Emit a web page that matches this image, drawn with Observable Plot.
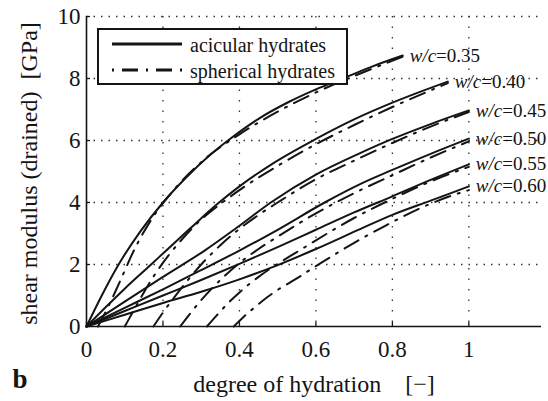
<!DOCTYPE html>
<html>
<head>
<meta charset="utf-8">
<script src="https://cdn.jsdelivr.net/npm/d3@7"></script>
<script src="https://cdn.jsdelivr.net/npm/@observablehq/plot@0.6"></script>
<style>
  html, body { margin: 0; padding: 0; background: #fff; }
  #wrap { position: relative; width: 548px; height: 401px; }
  #legend { position: absolute; left: 97px; top: 28px; }
  text { font-family: "Liberation Serif", "DejaVu Serif", serif; }
</style>
</head>
<body>
<div id="wrap"></div>
<script>
// ---- tick labels ----
const xTicks = [0, 0.2, 0.4, 0.6, 0.8, 1];
const xTickLabels = ["0", "0.2", "0.4", "0.6", "0.8", "1"];
const yTicks = [0, 2, 4, 6, 8, 10];
const yTickLabels = ["0", "2", "4", "6", "8", "10"];

// ---- series: water/cement ratios ----
const wcRatios = ["0.35", "0.40", "0.45", "0.50", "0.55", "0.60"];

// acicular hydrates (solid) : degree of hydration / shear modulus [GPa]
const acicularX035 = [0, 0.04, 0.084, 0.14, 0.2, 0.26, 0.32, 0.37, 0.45, 0.53, 0.6, 0.67, 0.75, 0.827];
const acicularY035 = [0, 1.0, 2.0, 3.05, 4.0, 4.8, 5.5, 6.0, 6.7, 7.25, 7.65, 8.0, 8.4, 8.74];
const acicularX040 = [0, 0.05, 0.1, 0.169, 0.21, 0.27, 0.342, 0.4, 0.49, 0.6, 0.7, 0.8, 0.945];
const acicularY040 = [0, 0.62, 1.22, 2.0, 2.47, 3.15, 3.95, 4.52, 5.28, 6.05, 6.68, 7.22, 7.9];
const acicularX045 = [0, 0.1, 0.2, 0.309, 0.4, 0.482, 0.6, 0.717, 0.8, 0.9, 1.0];
const acicularY045 = [0, 0.8, 1.6, 2.45, 3.25, 4.0, 4.9, 5.6, 6.05, 6.53, 6.97];
const acicularX050 = [0, 0.1, 0.2, 0.3, 0.4, 0.5, 0.623, 0.717, 0.8, 0.9, 1.0];
const acicularY050 = [0, 0.6, 1.2, 1.82, 2.45, 3.12, 4.0, 4.6, 5.05, 5.57, 6.06];
const acicularX055 = [0, 0.1, 0.2, 0.3, 0.4, 0.5, 0.6, 0.7, 0.8, 0.9, 1.0];
const acicularY055 = [0, 0.5, 1.0, 1.5, 2.02, 2.56, 3.12, 3.68, 4.2, 4.73, 5.23];
const acicularX060 = [0, 0.1, 0.2, 0.3, 0.4, 0.5, 0.6, 0.717, 0.8, 0.9, 1.0];
const acicularY060 = [0, 0.38, 0.76, 1.12, 1.52, 1.98, 2.5, 3.15, 3.6, 4.06, 4.52];

// spherical hydrates (dash-dot)
const sphericalX035 = [0.03, 0.06, 0.08, 0.1, 0.12, 0.167, 0.228, 0.3, 0.4, 0.5, 0.6, 0.7, 0.827];
const sphericalY035 = [0, 0.72, 1.25, 1.8, 2.35, 3.4, 4.4, 5.3, 6.2, 6.93, 7.55, 8.08, 8.7];
const sphericalX040 = [0.1, 0.125, 0.15, 0.18, 0.215, 0.26, 0.3, 0.35, 0.4, 0.5, 0.6, 0.7, 0.8, 0.945];
const sphericalY040 = [0, 0.55, 1.1, 1.7, 2.3, 2.95, 3.45, 3.95, 4.4, 5.18, 5.88, 6.5, 7.08, 7.85];
const sphericalX045 = [0.175, 0.2, 0.23, 0.26, 0.3, 0.35, 0.4, 0.45, 0.5, 0.6, 0.7, 0.8, 0.9, 1.0];
const sphericalY045 = [0, 0.45, 0.95, 1.42, 2.0, 2.62, 3.15, 3.6, 4.0, 4.75, 5.35, 5.92, 6.45, 6.92];
const sphericalX050 = [0.245, 0.27, 0.3, 0.35, 0.4, 0.45, 0.5, 0.6, 0.7, 0.8, 0.9, 1.0];
const sphericalY050 = [0, 0.4, 0.85, 1.5, 2.05, 2.5, 2.9, 3.65, 4.3, 4.88, 5.45, 5.97];
const sphericalX055 = [0.315, 0.34, 0.37, 0.4, 0.45, 0.5, 0.55, 0.6, 0.7, 0.8, 0.9, 1.0];
const sphericalY055 = [0, 0.35, 0.75, 1.1, 1.6, 2.02, 2.4, 2.78, 3.5, 4.12, 4.68, 5.15];
const sphericalX060 = [0.385, 0.41, 0.44, 0.47, 0.5, 0.55, 0.6, 0.65, 0.7, 0.78, 0.865, 0.95, 1.0];
const sphericalY060 = [0, 0.3, 0.62, 0.92, 1.18, 1.55, 1.95, 2.33, 2.7, 3.24, 3.77, 4.2, 4.4];

const legendLabels = ["acicular hydrates", "spherical hydrates"];
const xTitle = "degree of hydration\u00a0\u00a0\u00a0\u00a0[\u2212]";
const yTitle = "shear modulus (drained)\u00a0\u00a0[GPa]";
const panelLabel = "b";

// ---- build tables ----
const acicularSets = [[acicularX035, acicularY035], [acicularX040, acicularY040], [acicularX045, acicularY045],
                      [acicularX050, acicularY050], [acicularX055, acicularY055], [acicularX060, acicularY060]];
const sphericalSets = [[sphericalX035, sphericalY035], [sphericalX040, sphericalY040], [sphericalX045, sphericalY045],
                       [sphericalX050, sphericalY050], [sphericalX055, sphericalY055], [sphericalX060, sphericalY060]];
function rows(sets) {
  const out = [];
  sets.forEach(([xs, ys], k) => xs.forEach((x, i) => out.push({wc: wcRatios[k], x, y: ys[i]})));
  return out;
}
const acicularRows = rows(acicularSets);
const sphericalRows = rows(sphericalSets);
const endRows = acicularSets.map(([xs, ys], k) => ({wc: wcRatios[k], x: xs[xs.length - 1], y: ys[ys.length - 1]}));

const ink = "#141414";
const dashDot = "16,8,2,8";
const chart = Plot.plot({
  width: 548, height: 401,
  marginLeft: 86, marginRight: 7, marginTop: 16, marginBottom: 75,
  x: {domain: [0, 1.19]},
  y: {domain: [0, 10]},
  style: {fontFamily: "Liberation Serif, serif", fontSize: "23px", color: ink, background: "white", overflow: "visible"},
  marks: [
    Plot.gridX(xTicks.slice(1), {stroke: "#333", strokeOpacity: 1, strokeWidth: 1.3, strokeDasharray: "1.5,9"}),
    Plot.gridY(yTicks.slice(1), {stroke: "#333", strokeOpacity: 1, strokeWidth: 1.3, strokeDasharray: "1.5,6"}),
    Plot.ruleX([0], {stroke: ink, strokeWidth: 1.6}),
    Plot.ruleY([0], {stroke: ink, strokeWidth: 1.6}),
    Plot.axisX(xTicks, {tickSize: -4, tickPadding: 18.5, strokeWidth: 1.3, fontSize: 23,
      tickFormat: d => xTickLabels[xTicks.indexOf(d)], label: null}),
    Plot.axisY(yTicks, {tickSize: -4, tickPadding: 10, strokeWidth: 1.3, fontSize: 23,
      tickFormat: d => yTickLabels[yTicks.indexOf(d)], label: null}),
    Plot.line(sphericalRows, {x: "x", y: "y", z: "wc", curve: "monotone-x", stroke: ink, strokeWidth: 2, strokeDasharray: dashDot}),
    Plot.line(acicularRows, {x: "x", y: "y", z: "wc", curve: "monotone-x", stroke: ink, strokeWidth: 2}),
    Plot.text(endRows, {x: "x", y: "y", text: d => "w/c=" + d.wc, dx: 7, textAnchor: "start", lineAnchor: "middle", fontSize: 19, fill: ink}),
    Plot.text([xTitle], {frameAnchor: "bottom", dy: 65, lineAnchor: "bottom", fontSize: 24, fill: ink}),
    Plot.text([yTitle], {frameAnchor: "left", rotate: -90, dx: -57, dy: 2, textAnchor: "middle", lineAnchor: "middle", fontSize: 24, fill: ink}),
    Plot.text([panelLabel], {frameAnchor: "bottom-left", dx: -74, dy: 61, textAnchor: "start", lineAnchor: "bottom", fontSize: 27, fontWeight: "bold", fill: ink})
  ]
});

// italic w/c
chart.querySelectorAll("text").forEach(t => {
  const s = t.textContent;
  if (s.startsWith("w/c=")) {
    t.textContent = "";
    const ns = "http://www.w3.org/2000/svg";
    const a = document.createElementNS(ns, "tspan"); a.setAttribute("font-style", "italic"); a.textContent = "w/c";
    const b = document.createElementNS(ns, "tspan"); b.textContent = s.slice(3);
    t.appendChild(a); t.appendChild(b);
  }
});

const wrap = document.getElementById("wrap");
wrap.appendChild(chart);

// legend overlay
const lg = d3.create("svg").attr("id", "legend").attr("width", 251).attr("height", 57);
lg.append("rect").attr("x", 1).attr("y", 1).attr("width", 249).attr("height", 55)
  .attr("fill", "white").attr("stroke", ink).attr("stroke-width", 2);
const dashes = [null, dashDot];
legendLabels.forEach((lab, i) => {
  const y = 16 + i * 26;
  lg.append("line").attr("x1", 15).attr("x2", 85).attr("y1", y).attr("y2", y)
    .attr("stroke", ink).attr("stroke-width", 3).attr("stroke-dasharray", dashes[i])
    .attr("stroke-dashoffset", dashes[i] ? 24 : null);
  lg.append("text").attr("x", 93).attr("y", y + 8).attr("font-size", 20).attr("fill", ink).text(lab);
});
wrap.appendChild(lg.node());
</script>
</body>
</html>
